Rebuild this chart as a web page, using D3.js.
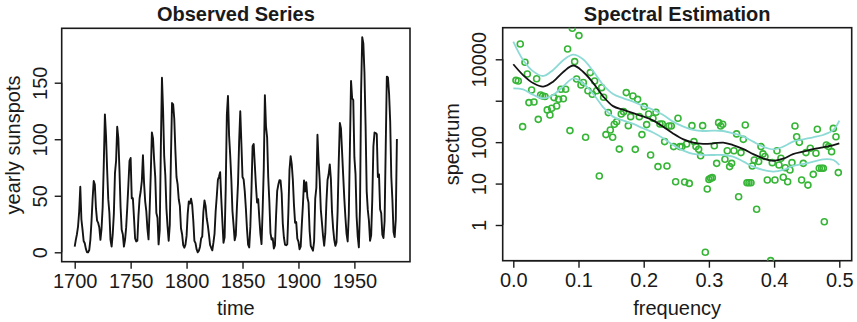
<!DOCTYPE html>
<html><head><meta charset="utf-8">
<script src="https://cdn.jsdelivr.net/npm/d3@7"></script>
<style>
body{margin:0;background:#fff}
text{font-family:"Liberation Sans",Arial,Helvetica,sans-serif;fill:#1a1a1a}
</style>
</head><body>
<svg id="chart" width="857" height="322"></svg>
<script>
// ---------- data ----------
const startYear = 1700;
const sunspots = [
5,11,16,23,36,58,29,20,10,8,
3,0,0,2,11,27,47,63,60,39,
28,26,22,11,21,40,78,122,103,73,
47,35,11,5,16,34,70,81,111,101,
73,40,20,16,5,11,22,40,60,80.9,
83.4,47.7,47.8,30.7,12.2,9.6,10.2,32.4,47.6,54.0,
62.9,85.9,61.2,45.1,36.4,20.9,11.4,37.8,69.8,106.1,
100.8,81.6,66.5,34.8,30.6,7.0,19.8,92.5,154.4,125.9,
84.8,68.1,38.5,22.8,10.2,24.1,82.9,132.0,130.9,118.1,
89.9,66.6,60.0,46.9,41.0,21.3,16.0,6.4,4.1,6.8,
14.5,34.0,45.0,43.1,47.5,42.2,28.1,10.1,8.1,2.5,
0.0,1.4,5.0,12.2,13.9,35.4,45.8,41.1,30.1,23.9,
15.6,6.6,4.0,1.8,8.5,16.6,36.3,49.6,64.2,67.0,
70.9,47.8,27.5,8.5,13.2,56.9,121.5,138.3,103.2,85.7,
64.6,36.7,24.2,10.7,15.0,40.1,61.5,98.5,124.7,96.3,
66.6,64.5,54.1,39.0,20.6,6.7,4.3,22.7,54.8,93.8,
95.8,77.2,59.1,44.0,47.0,30.5,16.3,7.3,37.6,74.0,
139.0,111.2,101.6,66.2,44.7,17.0,11.3,12.4,3.4,6.0,
32.3,54.3,59.7,63.7,63.5,52.2,25.4,13.1,6.8,6.3,
7.1,35.6,73.0,85.1,78.0,64.0,41.8,26.2,26.7,12.1,
9.5,2.7,5.0,24.4,42.0,63.5,53.8,62.0,48.5,43.9,
18.6,5.7,3.6,1.4,9.6,47.4,57.1,103.9,80.6,63.6,
37.6,26.1,14.2,5.8,16.7,44.3,63.9,69.0,77.8,64.9,
35.7,21.2,11.1,5.7,8.7,36.1,79.7,114.4,109.6,88.8,
67.8,47.5,30.6,16.3,9.6,33.2,92.6,151.6,136.3,134.7,
83.9,69.4,31.5,13.9,4.4,38.0,141.7,190.2,184.8,159.0,
112.3,53.9,37.5,27.9,10.2,15.1,47.0,93.8,105.9,105.5,
104.5,66.6,68.9,38.0,34.5,15.5,12.6,27.5,92.5,155.4,
154.6,140.4,115.9,66.6,45.9,17.9,13.4,29.2,100.2];

// periodogram points
const pgFreq = [
0.0041,0.0077,0.0107,0.0143,0.0179,0.0215,0.0240,0.0281,0.0317,0.0358,
0.0383,0.0419,0.0450,0.0486,0.0521,0.0562,0.0588,0.0624,0.0665,0.0695,
0.0731,0.0767,0.0803,0.0833,0.0869,0.0905,0.0941,0.0971,0.1007,
0.1038,0.1074,0.1109,0.1145,0.1181,0.1212,0.1247,0.1278,0.1319,0.1355,
0.1385,0.1421,0.1457,0.1488,0.1524,0.1549,0.1585,0.1626,0.1656,0.1692,
0.1733,0.1764,0.1800,0.1835,0.1871,0.1907,0.1933,0.1973,0.2009,
0.2045,0.2076,0.2106,0.2142,0.2188,0.2219,0.2249,0.2285,0.2321,0.2357,
0.2387,0.2423,0.2459,0.2490,0.2526,0.2556,0.2587,0.2628,0.2658,0.2699,
0.2740,0.2771,0.2802,0.2843,0.2873,0.2904,0.2945,0.2975,0.3001,
0.3027,0.3052,0.3083,0.3119,0.3149,0.3180,0.3211,0.3246,0.3282,0.3318,
0.3349,0.3384,0.3425,0.3456,0.3492,0.3528,0.3558,0.3584,0.3614,0.3645,
0.3666,0.3696,0.3732,0.3763,0.3799,0.3829,0.3860,0.3896,0.3947,0.3972,
0.4013,0.4044,
0.4075,0.4105,0.4141,0.4172,0.4208,0.4243,0.4274,0.4320,0.4346,0.4387,
0.4422,0.4448,0.4489,0.4519,0.4555,0.4601,0.4642,0.4663,0.4693,0.4729,
0.4755,0.4770,0.4801,0.4836,0.4882,0.4908,0.4949,0.4985];
const pgSpec = [
3100,3000,23400,237,8500,4430,900,1820,930,3400,
355,1380,1300,1260,600,453,656,1190,745,1080,
1890,1120,1890,17800,190,56000,8790,3350,37300,
2400,2750,131,1740,4780,1430,3000,1740,15.2,2070,
1210,152,517,196,131,270,312,68,480,545,
1570,250,413,1300,67,1080,413,152,720,
265,480,49,376,527,25.7,275,275,103,26.6,
245,245,78,11.1,376,78,78,10.9,90,10.1,
250,103,78,67,47,250,0.22,7.4,12.6,
13.4,13.9,82,30.8,296,245,270,38.5,62,25.7,
30.8,62,158,4.8,56,117,260,10.5,10.5,10.5,
26.6,37,2.4,34,78,52,45,12.2,0.138,32,
12.2,62,
28,40.7,14.2,24.2,11.1,21.3,32,245,135,99,
12.2,30.8,56,9.2,71,16.7,54,204,23.4,23.4,
23.4,1.2,85,78,59,215,135,18.4];

// smoothed estimate and band
const lineFreq = [0,0.015,0.031,0.046,0.061,0.077,0.092,0.107,0.123,0.138,
0.153,0.169,0.184,0.199,0.215,0.230,0.245,0.261,0.276,0.291,
0.307,0.322,0.337,0.353,0.368,0.383,0.399,0.414,0.429,0.445,
0.460,0.475,0.491,0.5];
const smoothSpec = [7590,4170,2630,2190,2880,5010,7080,5010,2630,1260,
741,603,501,417,331,234,162,117,97.7,91.2,
93.3,97.7,85.1,67.6,51.3,40.7,35.5,39.8,51.3,58.9,
67.6,75,85,93.3];
const upperSpec = [26700,9640,5040,3960,5530,9640,12900,10000,5040,2400,
1455,1143,950,747,598,453,313,237,197,186,
190,186,163,136,103,77.8,67.1,77.8,103,117,
131,149,197,330];
const lowerSpec = [1995,1890,1376,1143,1376,2270,3475,2630,1430,693,
413,330,275,216,169,124,85.5,62.4,51.8,49,
49,49,44.7,33.9,25.6,21.3,19.4,21.3,26.6,29.7,
33.9,38.5,37.1,28.1];

const yearTicks = [1700,1750,1800,1850,1900,1950];
const sunspotTicks = [0,50,100,150];
const freqTicks = [0,0.1,0.2,0.3,0.4,0.5];
const specTicks = [1,10,100,1000,10000];
const specTickLabels = ["1","10","100","","10000"];

// ---------- drawing ----------
const svg = d3.select("#chart");
const FS = 20;

function panelFrame(box, title, xlab, ylab, ylabX, titleY) {
  svg.append("rect").attr("x", box.x0).attr("y", box.y0)
    .attr("width", box.x1 - box.x0).attr("height", box.y1 - box.y0)
    .attr("fill", "none").attr("stroke", "#1a1a1a").attr("stroke-width", 1.6);
  svg.append("text").attr("x", (box.x0 + box.x1) / 2).attr("y", titleY)
    .attr("text-anchor", "middle").attr("font-weight", "bold").attr("font-size", 20)
    .text(title);
  svg.append("text").attr("x", (box.x0 + box.x1) / 2).attr("y", 315)
    .attr("text-anchor", "middle").attr("font-size", FS).text(xlab);
  svg.append("text").attr("transform", `translate(${ylabX},${(box.y0 + box.y1) / 2}) rotate(-90)`)
    .attr("text-anchor", "middle").attr("font-size", FS).text(ylab);
}

function styleAxis(g) {
  g.selectAll("path,line").attr("stroke", "#1a1a1a").attr("stroke-width", 1.4);
  g.selectAll("text").attr("font-size", FS).attr("fill", "#1a1a1a")
    .attr("font-family", '"Liberation Sans",Arial,Helvetica,sans-serif');
}

// Left panel
const L = {x0: 61.7, x1: 410, y0: 28.3, y1: 261.7};
const xL = d3.scaleLinear().domain([1700, 1988]).range([74.7, 396.9]);
const yL = d3.scaleLinear().domain([0, 150]).range([252.3, 82.7]);
panelFrame(L, "Observed Series", "time", "yearly sunspots", 20, 21);

const gxL = svg.append("g").attr("transform", `translate(0,${L.y1})`)
  .call(d3.axisBottom(xL).tickValues(yearTicks).tickFormat(d3.format("d")).tickSize(7).tickPadding(5));
styleAxis(gxL);
gxL.select(".domain").attr("d", `M${xL(1700)},0H${xL(1950)}`);

const gyL = svg.append("g").attr("transform", `translate(${L.x0},0)`)
  .call(d3.axisLeft(yL).tickValues(sunspotTicks).tickSize(7).tickPadding(4));
styleAxis(gyL);
gyL.select(".domain").attr("d", `M0,${yL(0)}V${yL(150)}`);
gyL.selectAll(".tick text").attr("x", null).attr("dy", null)
  .attr("text-anchor", "middle").attr("transform", "translate(-14.5,0) rotate(-90)");

svg.append("path")
  .datum(sunspots)
  .attr("fill", "none").attr("stroke", "#141414").attr("stroke-width", 1.9)
  .attr("stroke-linejoin", "round")
  .attr("d", d3.line().x((d, i) => xL(startYear + i)).y(d => yL(d)));

// Right panel
const R = {x0: 502.7, x1: 851.7, y0: 27.7, y1: 260.7};
const xR = d3.scaleLinear().domain([0, 0.5]).range([513.3, 839.3]);
const yR = d3.scaleLog().domain([1, 10000]).range([225, 59.3]);
panelFrame(R, "Spectral Estimation", "frequency", "spectrum", 459, 21);

const gxR = svg.append("g").attr("transform", `translate(0,${R.y1})`)
  .call(d3.axisBottom(xR).tickValues(freqTicks).tickFormat(d3.format(".1f")).tickSize(7).tickPadding(5));
styleAxis(gxR);
gxR.select(".domain").attr("d", `M${xR(0)},0H${xR(0.5)}`);

const gyR = svg.append("g").attr("transform", `translate(${R.x0},0)`)
  .call(d3.axisLeft(yR).tickValues(specTicks).tickFormat((d, i) => specTickLabels[i]).tickSize(7).tickPadding(4));
styleAxis(gyR);
gyR.select(".domain").attr("d", `M0,${yR(1)}V${yR(10000)}`);
gyR.selectAll(".tick text").attr("x", null).attr("dy", null)
  .attr("text-anchor", "middle").attr("transform", "translate(-17,0) rotate(-90)");

svg.append("clipPath").attr("id", "clipR").append("rect")
  .attr("x", R.x0).attr("y", R.y0).attr("width", R.x1 - R.x0).attr("height", R.y1 - R.y0);
const plotR = svg.append("g").attr("clip-path", "url(#clipR)");

const pts = pgFreq.map((f, i) => ({f, s: pgSpec[i]}));
plotR.selectAll("circle").data(pts).join("circle")
  .attr("cx", d => xR(d.f)).attr("cy", d => yR(d.s)).attr("r", 3)
  .attr("fill", "none").attr("stroke", "#36b536").attr("stroke-width", 1.6);

const lineGen = arr => d3.line().curve(d3.curveCatmullRom)
  .x((d, i) => xR(lineFreq[i])).y(d => yR(d))(arr);
[upperSpec, lowerSpec].forEach(arr => {
  plotR.append("path").attr("d", lineGen(arr)).attr("fill", "none")
    .attr("stroke", "#8ddad6").attr("stroke-width", 1.8);
});
plotR.append("path").attr("d", lineGen(smoothSpec)).attr("fill", "none")
  .attr("stroke", "#141414").attr("stroke-width", 1.8);
</script>
</body></html>
